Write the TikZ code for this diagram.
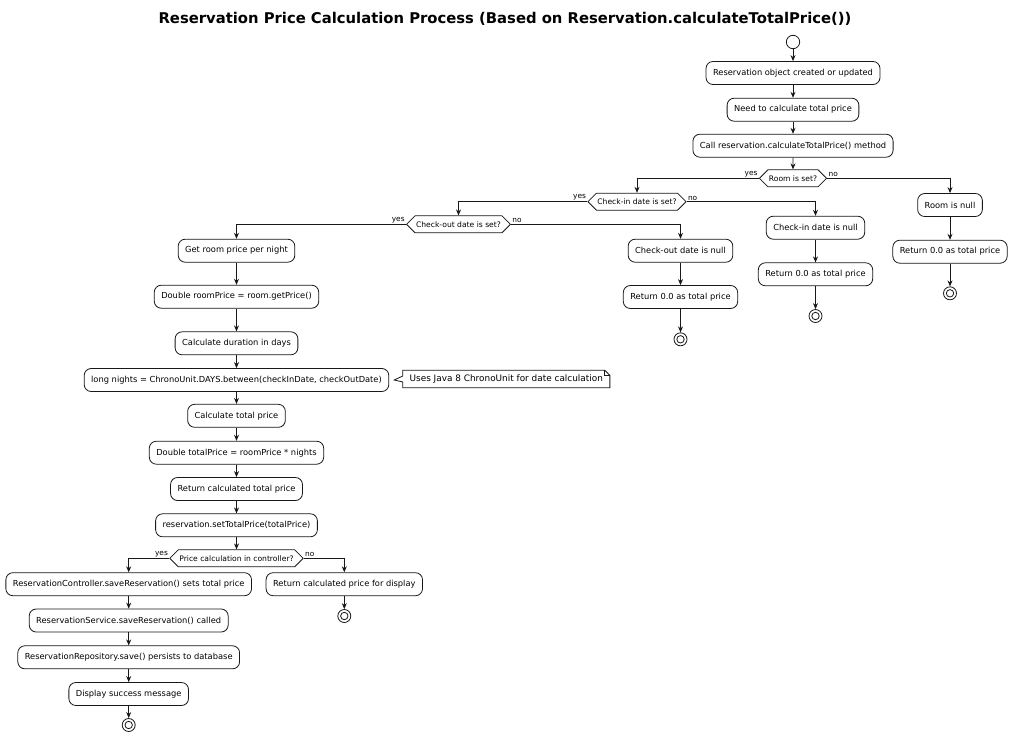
\documentclass[tikz,border=0pt]{standalone}
\usepackage{fontspec}
\setmainfont{DejaVu Sans}
\usetikzlibrary{arrows.meta,positioning,shapes.symbols}
\definecolor{umlline}{RGB}{24,24,24}

\begin{document}
\begin{tikzpicture}[x=1pt, y=-1pt, line width=0.8pt,
  act/.style={draw=umlline, fill=white, rounded corners=7pt, font=\fontsize{8.3}{10}\selectfont,
              minimum height=23pt, inner xsep=7pt, inner ysep=0pt},
  dec/.style={draw=umlline, fill=white, signal, signal to=west and east, signal pointer angle=90,
              font=\fontsize{7.6}{9}\selectfont, minimum height=17pt, inner xsep=1pt, inner ysep=0pt},
  startnode/.style={circle, draw=umlline, minimum size=13.4pt, inner sep=0pt},
  stopnode/.style={circle, draw=umlline, minimum size=13pt, inner sep=0pt,
              path picture={\draw[umlline] (path picture bounding box.center) circle (3.7pt);}},
  flow/.style={draw=umlline, -{Stealth[length=6pt,width=5pt]}},
  lbl/.style={font=\fontsize{7.4}{9}\selectfont, inner sep=1pt}
]
\useasboundingbox (0,0) rectangle (1011,737);
% Title
\node[font=\fontsize{14.8}{17}\selectfont\bfseries] (title) at (505,19)
  {Reservation Price Calculation Process (Based on Reservation.calculateTotalPrice())};
% Top of the flow
\node[startnode] (start) at (793,42) {};
\node[act] (created) at (793,73) {Reservation object created or updated};
\node[act] (need) at (793,109.7) {Need to calculate total price};
\node[act] (call) at (793,145.7) {Call reservation.calculateTotalPrice() method};
\node[dec] (roomset) at (793,178.3) {Room is set?};
% Room missing
\node[act] (roomnull) at (950,205) {Room is null};
\node[act] (retroom) at (950,251.7) {Return 0.0 as total price};
\node[stopnode] (stoproom) at (950,293.3) {};
% Check-in date
\node[dec] (ckinset) at (637,201.7) {Check-in date is set?};
\node[act] (ckinnull) at (815.5,227.7) {Check-in date is null};
\node[act] (retckin) at (815.5,274.3) {Return 0.0 as total price};
\node[stopnode] (stopckin) at (815.5,316) {};
% Check-out date
\node[dec] (ckoutset) at (458.5,224.3) {Check-out date is set?};
\node[act] (ckoutnull) at (680.5,250.7) {Check-out date is null};
\node[act] (retckout) at (680.5,297) {Return 0.0 as total price};
\node[stopnode] (stopckout) at (680.5,339.3) {};
% Main computation
\node[act] (getprice) at (236.5,250.7) {Get room price per night};
\node[act] (roomprice) at (236.5,296.7) {Double roomPrice = room.getPrice()};
\node[act] (duration) at (236.5,343.3) {Calculate duration in days};
\node[act] (nights) at (236.5,380) {long nights = ChronoUnit.DAYS.between(checkInDate, checkOutDate)};
\node[act] (calctotal) at (236.5,415.8) {Calculate total price};
\node[act] (totalprice) at (236.5,452.7) {Double totalPrice = roomPrice * nights};
\node[act] (rettotal) at (236.5,489) {Return calculated total price};
\node[act] (settotal) at (236.5,525.3) {reservation.setTotalPrice(totalPrice)};
\node[dec] (inctrl) at (236.5,558.3) {Price calculation in controller?};
% Controller branch
\node[act] (ctrlsave) at (128.7,584.2) {ReservationController.saveReservation() sets total price};
\node[act] (service) at (128.7,620.5) {ReservationService.saveReservation() called};
\node[act] (repo) at (128.7,657.3) {ReservationRepository.save() persists to database};
\node[act] (success) at (128.7,694) {Display success message};
\node[stopnode] (stopsuccess) at (128.7,725) {};
\node[act] (display) at (344.3,584.2) {Return calculated price for display};
\node[stopnode] (stopdisplay) at (344.3,616) {};
% Note
\node[font=\fontsize{8.9}{11}\selectfont, minimum height=16.6pt, inner xsep=6.5pt, inner ysep=0pt]
  (note) at (506.3,379) {Uses Java 8 ChronoUnit for date calculation};
\draw[umlline, fill=white] (note.north west) -- ([xshift=-5pt]note.north east) -- ([yshift=-5pt]note.north east)
  -- (note.south east) -- (note.south west) -- ([yshift=-3pt]note.west) -- ([xshift=5pt]nights.east)
  -- ([yshift=3pt]note.west) -- cycle;
\draw[umlline] ([xshift=-5pt]note.north east) |- ([yshift=-5pt]note.north east);
\node[font=\fontsize{8.9}{11}\selectfont, inner xsep=6.5pt, inner ysep=0pt] at (note) {Uses Java 8 ChronoUnit for date calculation};
% Arrows
\draw[flow] (start) -- (created);
\draw[flow] (created) -- (need);
\draw[flow] (need) -- (call);
\draw[flow] (call) -- (roomset);
\draw[flow] (roomset.west) -| (ckinset.north);
\draw[flow] (roomset.east) -| (roomnull.north);
\draw[flow] (roomnull) -- (retroom);
\draw[flow] (retroom) -- (stoproom);
\draw[flow] (ckinset.west) -| (ckoutset.north);
\draw[flow] (ckinset.east) -| (ckinnull.north);
\draw[flow] (ckinnull) -- (retckin);
\draw[flow] (retckin) -- (stopckin);
\draw[flow] (ckoutset.west) -| (getprice.north);
\draw[flow] (ckoutset.east) -| (ckoutnull.north);
\draw[flow] (ckoutnull) -- (retckout);
\draw[flow] (retckout) -- (stopckout);
\draw[flow] (getprice) -- (roomprice);
\draw[flow] (roomprice) -- (duration);
\draw[flow] (duration) -- (nights);
\draw[flow] (nights) -- (calctotal);
\draw[flow] (calctotal) -- (totalprice);
\draw[flow] (totalprice) -- (rettotal);
\draw[flow] (rettotal) -- (settotal);
\draw[flow] (settotal) -- (inctrl);
\draw[flow] (inctrl.west) -| (ctrlsave.north);
\draw[flow] (inctrl.east) -| (display.north);
\draw[flow] (ctrlsave) -- (service);
\draw[flow] (service) -- (repo);
\draw[flow] (repo) -- (success);
\draw[flow] (success) -- (stopsuccess);
\draw[flow] (display) -- (stopdisplay);
% Branch labels
\node[lbl, anchor=south east] at (roomset.west) {yes};
\node[lbl, anchor=south west] at (roomset.east) {no};
\node[lbl, anchor=south east] at (ckinset.west) {yes};
\node[lbl, anchor=south west] at (ckinset.east) {no};
\node[lbl, anchor=south east] at (ckoutset.west) {yes};
\node[lbl, anchor=south west] at (ckoutset.east) {no};
\node[lbl, anchor=south east] at (inctrl.west) {yes};
\node[lbl, anchor=south west] at (inctrl.east) {no};
\end{tikzpicture}
\end{document}
